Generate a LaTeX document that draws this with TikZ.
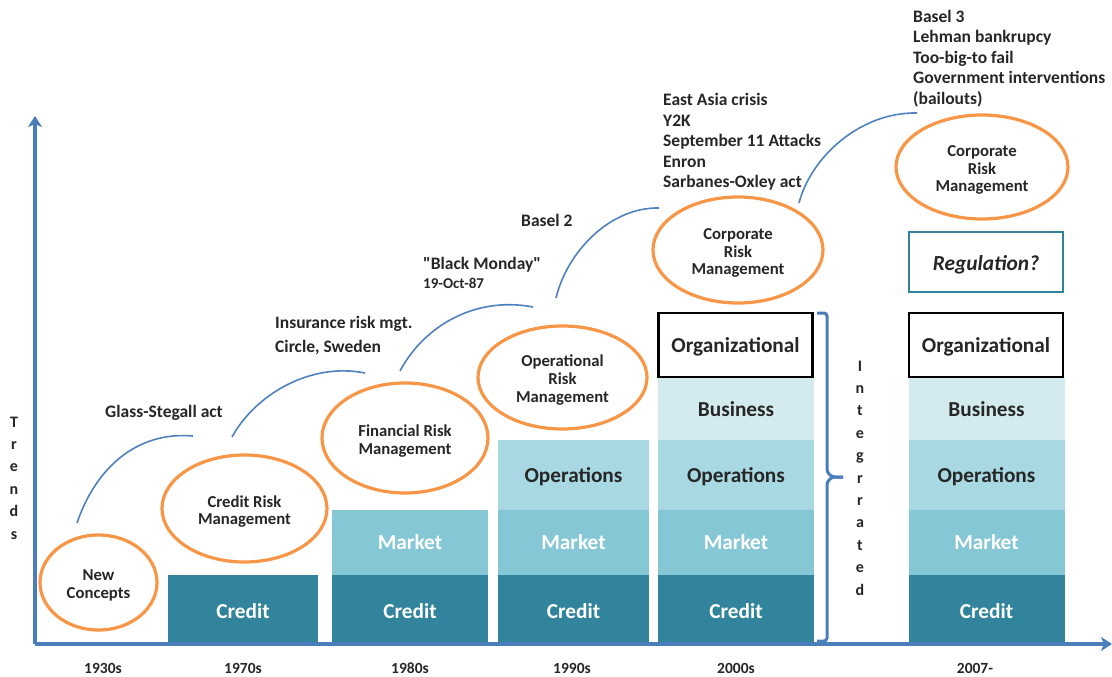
\documentclass[tikz,border=0pt]{standalone}
\usepackage{fontspec}
\setmainfont{Carlito}[Ligatures=TeXOff]
\usetikzlibrary{shapes.geometric,arrows.meta}
\definecolor{axisblue}{HTML}{4A7EBB}
\definecolor{arcblue}{HTML}{4F81BD}
\definecolor{orng}{HTML}{F79646}
\definecolor{creditc}{HTML}{31849B}
\definecolor{marketc}{HTML}{86C7D5}
\definecolor{operc}{HTML}{A8D9E3}
\definecolor{busc}{HTML}{D3EBEF}
\definecolor{txt}{HTML}{262626}
\tikzset{
  layer/.style={inner sep=0pt, draw=none, minimum width=#1, text height=15.5pt, text depth=0pt,
    font=\fontsize{21.3}{24}\selectfont\bfseries},
  lcredit/.style={layer=150pt, fill=creditc, text=white, text height=20.5pt},
  lmarket/.style={layer=156pt, fill=marketc, text=white, text height=13.5pt},
  loper/.style={layer=156pt, fill=operc, text=txt},
  lbus/.style={layer=156pt, fill=busc, text=txt},
  lorg/.style={layer=156pt, fill=white, draw=black, line width=2.6pt, text=txt},
  riskell/.style={ellipse, draw=orng, line width=3.2pt, inner sep=0pt},
  risktxt/.style={inner sep=0pt, align=center, text=txt, font=\fontsize{16.7}{17.8}\selectfont\bfseries},
  evtext/.style={anchor=base west, inner sep=0pt, text=txt, font=\fontsize{17.5}{20}\selectfont\bfseries},
  yearlbl/.style={anchor=base, inner sep=0pt, text=txt, font=\fontsize{15.5}{18}\selectfont\bfseries},
  vlet/.style={inner sep=0pt, text=txt, align=center, font=\fontsize{16}{22.4}\selectfont\bfseries},
  blarc/.style={draw=arcblue, line width=1.6pt},
  axisline/.style={draw=axisblue, line width=3.4pt, -{Stealth[length=11pt,width=14pt,inset=3pt]}},
}
\begin{document}
\begin{tikzpicture}[x=1pt,y=-1pt]
\useasboundingbox (0,0) rectangle (1112,677);

% ---- bars ----
% 1970s
\node[lcredit, minimum height=67pt] (c70) at (243,608.5) {Credit};
% 1980s
\node[lcredit, minimum width=156pt, minimum height=67pt] (c80) at (410,608.5) {Credit};
\node[lmarket, minimum height=65pt] (m80) at (410,542.5) {Market};
% 1990s
\node[lcredit, minimum width=151pt, minimum height=67pt] (c90) at (573.5,608.5) {Credit};
\node[lmarket, minimum width=151pt, minimum height=65pt] (m90) at (573.5,542.5) {Market};
\node[loper, minimum width=151pt, minimum height=70pt] (o90) at (573.5,475) {Operations};
% 2000s
\node[lcredit, minimum width=156pt, minimum height=67pt] (c00) at (736,608.5) {Credit};
\node[lmarket, minimum height=65pt] (m00) at (736,542.5) {Market};
\node[loper, minimum height=70pt] (o00) at (736,475) {Operations};
\node[lbus, minimum height=62pt] (b00) at (736,409) {Business};
\node[lorg, minimum width=154pt, minimum height=64pt] (g00) at (735.5,345) {Organizational};
% 2007-
\node[lcredit, minimum width=156pt, minimum height=67pt] (c07) at (986.5,608.5) {Credit};
\node[lmarket, minimum height=65pt] (m07) at (986.5,542.5) {Market};
\node[loper, minimum height=70pt] (o07) at (986.5,475) {Operations};
\node[lbus, minimum height=62pt] (b07) at (986.5,409) {Business};
\node[lorg, minimum width=154pt, minimum height=64pt] (g07) at (986,345) {Organizational};
% Regulation box
\node[draw=creditc, line width=2.4pt, minimum width=154pt, minimum height=60pt, inner sep=0pt,
  text height=17pt, text depth=0pt,
  text=txt, font=\fontsize{21.4}{24}\selectfont\bfseries\itshape] (reg) at (986,262) {Regulation?};

% ---- axes ----
\coordinate (origin) at (35,644);
\coordinate (ytip) at (35,116);
\coordinate (xtip) at (1112,644);
\draw[axisline] (origin) -- (ytip);
\draw[axisline] (origin) -- (xtip);

% ---- brace ----
\coordinate (brtop) at (817,313);
\coordinate (brbot) at (817,641);
\coordinate (brtip) at (843,477);
\draw[draw=axisblue, line width=3pt, rounded corners=3pt]
  (brtop) -- (827,313) -- (827,472) -- (832,477) -- (brtip);
\draw[draw=axisblue, line width=3pt, rounded corners=3pt]
  (brbot) -- (827,641) -- (827,482) -- (832,477) -- (brtip);

% ---- ellipses ----
\node[riskell, minimum width=117pt, minimum height=95pt] (e30) at (98.5,582.5) {};
\node[risktxt] (e30t) at ([yshift=-3pt]e30.center) {New\\Concepts};
\node[riskell, minimum width=165pt, minimum height=107pt] (e70) at (244.5,508.5) {};
\node[risktxt] (e70t) at ([yshift=-3pt]e70.center) {Credit Risk\\Management};
\node[riskell, minimum width=166pt, minimum height=110pt] (e80) at (405,438) {};
\node[risktxt] (e80t) at ([yshift=-3pt]e80.center) {Financial Risk\\Management};
\node[riskell, minimum width=169pt, minimum height=103pt] (e90) at (562.5,377.5) {};
\node[risktxt] (e90t) at ([yshift=-2.5pt]e90.center) {Operational\\Risk\\Management};
\node[riskell, minimum width=170pt, minimum height=106pt] (e00) at (738,250) {};
\node[risktxt] (e00t) at ([yshift=-3pt]e00.center) {Corporate\\Risk\\Management};
\node[riskell, minimum width=172pt, minimum height=104pt] (e07) at (982,167) {};
\node[risktxt] (e07t) at ([yshift=-3pt]e07.center) {Corporate\\Risk\\Management};

% ---- arcs ----
\coordinate (a1s) at (77,523);  \coordinate (a1e) at (193,436);
\coordinate (a2s) at (232,437); \coordinate (a2e) at (365,373);
\coordinate (a3s) at (400,371); \coordinate (a3e) at (533,307);
\coordinate (a4s) at (556,298); \coordinate (a4e) at (659,208);
\coordinate (a5s) at (799,203); \coordinate (a5e) at (917,113);
\draw[blarc] (a1s) .. controls (95,470) and (135,431) .. (a1e);
\draw[blarc] (a2s) .. controls (255,395) and (310,362) .. (a2e);
\draw[blarc] (a3s) .. controls (424,326) and (475,296) .. (a3e);
\draw[blarc] (a4s) .. controls (567,252) and (610,207) .. (a4e);
\draw[blarc] (a5s) .. controls (811,157) and (860,112) .. (a5e);

% ---- captions (baseline = visual centre + 5.6) ----
\node[evtext] (t1) at (105,417.6) {Glass-Stegall act};
\node[evtext] (t2a) at (275,328.6) {Insurance risk mgt.};
\node[evtext] (t2b) at (275,352.6) {Circle, Sweden};
\node[evtext] (t3a) at (423,269.6) {"Black Monday"};
\node[evtext, font=\fontsize{15}{17}\selectfont\bfseries] (t3b) at (423,288.8) {19-Oct-87};
\node[evtext] (t4) at (521,226.6) {Basel 2};
\node[evtext] (t5a) at (663,105.6) {East Asia crisis};
\node[evtext] (t5b) at (663,126) {Y2K};
\node[evtext] (t5c) at (663,146.6) {September 11 Attacks};
\node[evtext] (t5d) at (663,167) {Enron};
\node[evtext] (t5e) at (663,187.4) {Sarbanes-Oxley act};
\node[evtext] (t6a) at (913,22.4) {Basel 3};
\node[evtext] (t6b) at (913,43) {Lehman bankrupcy};
\node[evtext] (t6c) at (913,63.4) {Too-big-to fail};
\node[evtext] (t6d) at (913,84) {Government interventions};
\node[evtext] (t6e) at (913,104.6) {(bailouts)};

% ---- vertical words ----
\node[vlet] (trends) at (14,478) {T\\r\\e\\n\\d\\s};
\node[vlet] (integ) at (860,478) {I\\n\\t\\e\\g\\r\\r\\a\\t\\e\\d};

% ---- years ----
\node[yearlbl] (y30) at (103,673) {1930s};
\node[yearlbl] (y70) at (243,673) {1970s};
\node[yearlbl] (y80) at (410,673) {1980s};
\node[yearlbl] (y90) at (572,673) {1990s};
\node[yearlbl] (y00) at (736,673) {2000s};
\node[yearlbl] (y07) at (975,673) {2007-};
\end{tikzpicture}
\end{document}
